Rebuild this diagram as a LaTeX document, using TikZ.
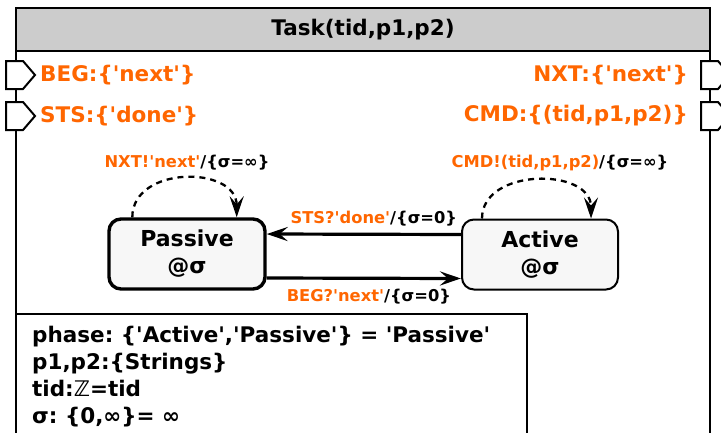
\documentclass[tikz,border=0pt]{standalone}
\usepackage{fontspec}
\setmainfont{DejaVu Sans}[Ligatures=TeXOff]
\usetikzlibrary{arrows.meta,positioning}
\definecolor{devsorange}{HTML}{FF6600}
\definecolor{devshead}{HTML}{CCCCCC}
\definecolor{devsfill}{HTML}{F7F7F7}
\frenchspacing

\begin{document}
\begin{tikzpicture}[
 x=1pt,y=-1pt,
 portline/.style={draw,fill=white,line width=2pt},
 portlbl/.style={text=devsorange,font=\fontsize{21.5}{24}\selectfont\bfseries,inner sep=0pt},
 state/.style={rectangle,rounded corners=12pt,draw,fill=devsfill,minimum width=156pt,minimum height=70pt,align=center,font=\fontsize{22}{27}\selectfont\bfseries},
 trans/.style={line width=3.2pt,-{Stealth[length=21pt,width=14pt,inset=8pt]}},
 selfloop/.style={line width=2.3pt,dash pattern=on 6pt off 5pt,-{Stealth[length=21pt,width=14pt,inset=8pt]}},
 tlbl/.style={font=\fontsize{16.3}{19}\selectfont\bfseries,inner sep=0pt},
 varlbl/.style={font=\fontsize{21.5}{24}\selectfont\bfseries,inner sep=0pt,anchor=base west}]
\useasboundingbox (0,0) rectangle (721,432);
\clip (0,0) rectangle (721,432);
\fill[white] (0,0) rectangle (721,432);
% model frame
\draw[line width=2.3pt,fill=white] (16,8) rectangle (710,445);
\draw[line width=2.3pt,fill=devshead] (16,8) rectangle (710,51);
\node[font=\fontsize{21.5}{24}\selectfont\bfseries] (title) at (363,30) {Task(tid,p1,p2)};
% ports
\foreach \n/\x/\y in {beg/6/75,sts/6/116,nxt/701/75,cmd/701/116}
 \draw[portline] (\x,\y) coordinate (p\n) ++(0,-14) -- ++(17,0) -- ++(12,14) -- ++(-12,14) -- ++(-17,0) -- cycle;
\node[portlbl,right=34pt of pbeg] (lbeg) {BEG:\{'next'\}};
\node[portlbl,right=34pt of psts] (lsts) {STS:\{'done'\}};
\node[portlbl,left=13pt of pnxt] (lnxt) {NXT:\{'next'\}};
\node[portlbl,left=13pt of pcmd] (lcmd) {CMD:\{(tid,p1,p2)\}};
% states
\node[state,line width=3.4pt] (pas) at (187,254) {Passive\\@σ};
\node[state,line width=2pt] (act) at (540,254.5) {Active\\@σ};
\draw[trans] ([yshift=20pt]act.west) -- ([yshift=20pt]pas.east)
 node[tlbl,midway,above=6pt,xshift=10pt] (tsts) {\textcolor{devsorange}{STS?'done'}/\{σ=0\}};
\draw[trans] ([yshift=-24pt]pas.east) -- ([yshift=-24pt]act.west)
 node[tlbl,midway,below=9pt,xshift=5pt] (tbeg) {\textcolor{devsorange}{BEG?'next'}/\{σ=0\}};
\draw[selfloop] ([xshift=25pt]pas.north west) .. controls +(0,-52) and +(0,-52) .. ([xshift=-30pt]pas.north east);
\draw[selfloop] ([xshift=21pt]act.north west) .. controls +(0,-51) and +(0,-51) .. ([xshift=-28pt]act.north east);
\node[tlbl] (tnxt) at (187,163) {\textcolor{devsorange}{NXT!'next'}/\{σ=∞\}};
\node[tlbl] (tcmd) at (560,163) {\textcolor{devsorange}{CMD!(tid,p1,p2)}/\{σ=∞\}};
% state variables
\draw[line width=2.3pt,fill=white] (16,314) rectangle (527,445);
\foreach \i/\t in {1/{phase: \{'Active','Passive'\} = 'Passive'},2/{p1,p2:\{Strings\}},3/{tid:ℤ=tid},4/{σ: \{0,∞\}= ∞}}
 \node[varlbl] (v\i) at (32,{315+27*\i}) {\t};
\end{tikzpicture}
\end{document}
